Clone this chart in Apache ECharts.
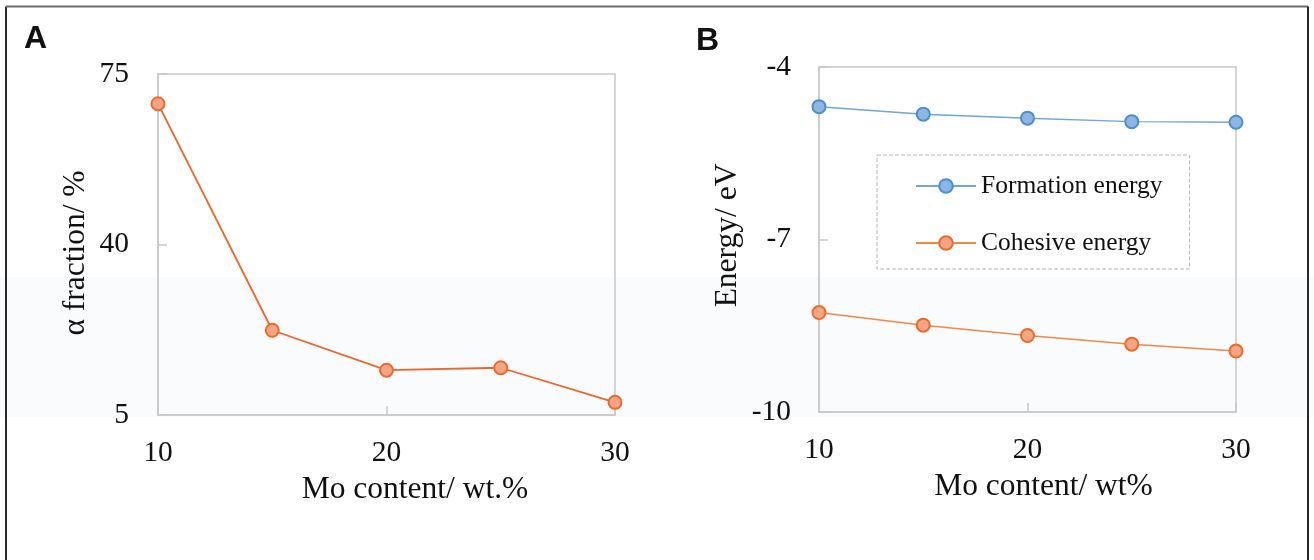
<!DOCTYPE html>
<html>
<head>
<meta charset="utf-8">
<script src="https://cdn.jsdelivr.net/npm/echarts@6/dist/echarts.min.js"></script>
<style>
html,body{margin:0;padding:0;background:#fff;}
#chart{width:1314px;height:560px;}
</style>
</head>
<body>
<div id="chart"></div>
<script>
// ---- data ----
var moContent = [10, 15, 20, 25, 30];
var alphaFraction = [68.9, 22.4, 14.2, 14.7, 7.6];
var formationEnergy = [-4.69, -4.82, -4.89, -4.95, -4.96];
var cohesiveEnergy = [-8.27, -8.49, -8.67, -8.82, -8.94];
var xTicks = [10, 20, 30];
var yTicksA = [5, 40, 75];
var yTicksB = [-10, -7, -4];
var seriesNames = ['Formation energy', 'Cohesive energy'];
var axisNames = {
  xA: 'Mo content/ wt.%', yA: 'α fraction/ %',
  xB: 'Mo content/ wt%', yB: 'Energy/ eV'
};
var panelLabels = ['A', 'B'];

function pairs(xs, ys) { return xs.map(function (x, i) { return [x, ys[i]]; }); }

var serif = 'Liberation Serif';
var frame = '#c9c9c9';

function xAxisCfg(gridIndex, name, pad) {
  return {
    type: 'value', gridIndex: gridIndex,
    min: xTicks[0], max: xTicks[xTicks.length - 1], interval: xTicks[1] - xTicks[0],
    name: name, nameLocation: 'middle', nameGap: 59,
    nameTextStyle: { fontFamily: serif, fontSize: 31.5, color: '#111', padding: [0, 0, 0, pad] },
    axisLine: { show: true, lineStyle: { color: frame, width: 1.5 } },
    axisTick: { show: true, inside: true, length: 9, lineStyle: { color: frame, width: 1.5 } },
    axisLabel: { fontFamily: serif, fontSize: 29.5, color: '#111', margin: 23 },
    splitLine: { show: false }
  };
}
function yAxisCfg(gridIndex, name, ticks, gap, pad, margin) {
  return {
    type: 'value', gridIndex: gridIndex, min: ticks[0], max: ticks[ticks.length - 1],
    name: name, nameLocation: 'middle', nameGap: gap,
    nameTextStyle: { fontFamily: serif, fontSize: 31.5, color: '#111', padding: pad },
    axisLine: { show: true, lineStyle: { color: frame, width: 1.5 } },
    axisTick: { show: true, inside: true, length: 9, customValues: ticks, lineStyle: { color: frame, width: 1.5 } },
    axisLabel: { fontFamily: serif, fontSize: 29.5, color: '#111', margin: margin, customValues: ticks },
    splitLine: { show: false }
  };
}

var chart = echarts.init(document.getElementById('chart'), null, { renderer: 'canvas' });
var option = {
  backgroundColor: '#fff',
  animation: false,
  graphic: [
    { type: 'rect', z: -10, shape: { x: 0, y: 277, width: 1314, height: 140 }, style: { fill: '#fafbfc' } },
    { type: 'polyline', shape: { points: [[6, 560], [6, 6.5]] }, style: { stroke: '#2a2a2a', lineWidth: 2, fill: null } },
    { type: 'polyline', shape: { points: [[6, 6.5], [1308, 6.5]] }, style: { stroke: '#6a6a6a', lineWidth: 2, fill: null } },
    { type: 'polyline', shape: { points: [[1308, 6.5], [1308, 560]] }, style: { stroke: '#2a2a2a', lineWidth: 2, fill: null } },
    { type: 'text', left: 24, top: 23, style: { text: panelLabels[0], font: 'bold 32px "Liberation Sans"', fill: '#111' } },
    { type: 'text', left: 696, top: 25, style: { text: panelLabels[1], font: 'bold 32px "Liberation Sans"', fill: '#111' } }
  ],
  grid: [
    { left: 158, top: 74, width: 457, height: 341, show: true, borderColor: frame, borderWidth: 1.5, backgroundColor: 'transparent' },
    { left: 819, top: 67, width: 417, height: 345, show: true, borderColor: frame, borderWidth: 1.5, backgroundColor: 'transparent' }
  ],
  legend: {
    data: seriesNames,
    orient: 'vertical',
    left: 877, top: 155,
    padding: [18, 27, 13, 38],
    itemGap: 31,
    itemWidth: 60, itemHeight: 17,
    borderColor: '#b8b8b8', borderWidth: 1, borderType: 'dashed',
    textStyle: { fontFamily: serif, fontSize: 25.5, color: '#111' }
  },
  xAxis: [xAxisCfg(0, axisNames.xA, 57), xAxisCfg(1, axisNames.xB, 32)],
  yAxis: [
    yAxisCfg(0, axisNames.yA, yTicksA, 66, [0, 17, 0, 0], 29),
    yAxisCfg(1, axisNames.yB, yTicksB, 75, [0, 0, 0, 8], 28)
  ],
  series: [
    {
      name: 'α fraction', type: 'line', xAxisIndex: 0, yAxisIndex: 0,
      data: pairs(moContent, alphaFraction),
      symbol: 'circle', symbolSize: 13,
      lineStyle: { color: '#f0652a', width: 1.8 },
      itemStyle: { color: '#f4a585', borderColor: '#ee6a2c', borderWidth: 2 }
    },
    {
      name: seriesNames[0], type: 'line', xAxisIndex: 1, yAxisIndex: 1,
      data: pairs(moContent, formationEnergy),
      symbol: 'circle', symbolSize: 13,
      lineStyle: { color: '#6fa6dc', width: 1.5 },
      itemStyle: { color: '#8fb6e2', borderColor: '#4a8fd0', borderWidth: 2 }
    },
    {
      name: seriesNames[1], type: 'line', xAxisIndex: 1, yAxisIndex: 1,
      data: pairs(moContent, cohesiveEnergy),
      symbol: 'circle', symbolSize: 13,
      lineStyle: { color: '#f4874a', width: 1.5 },
      itemStyle: { color: '#f4a585', borderColor: '#ec6a2a', borderWidth: 2 }
    }
  ]
};
chart.setOption(option);
</script>
</body>
</html>
